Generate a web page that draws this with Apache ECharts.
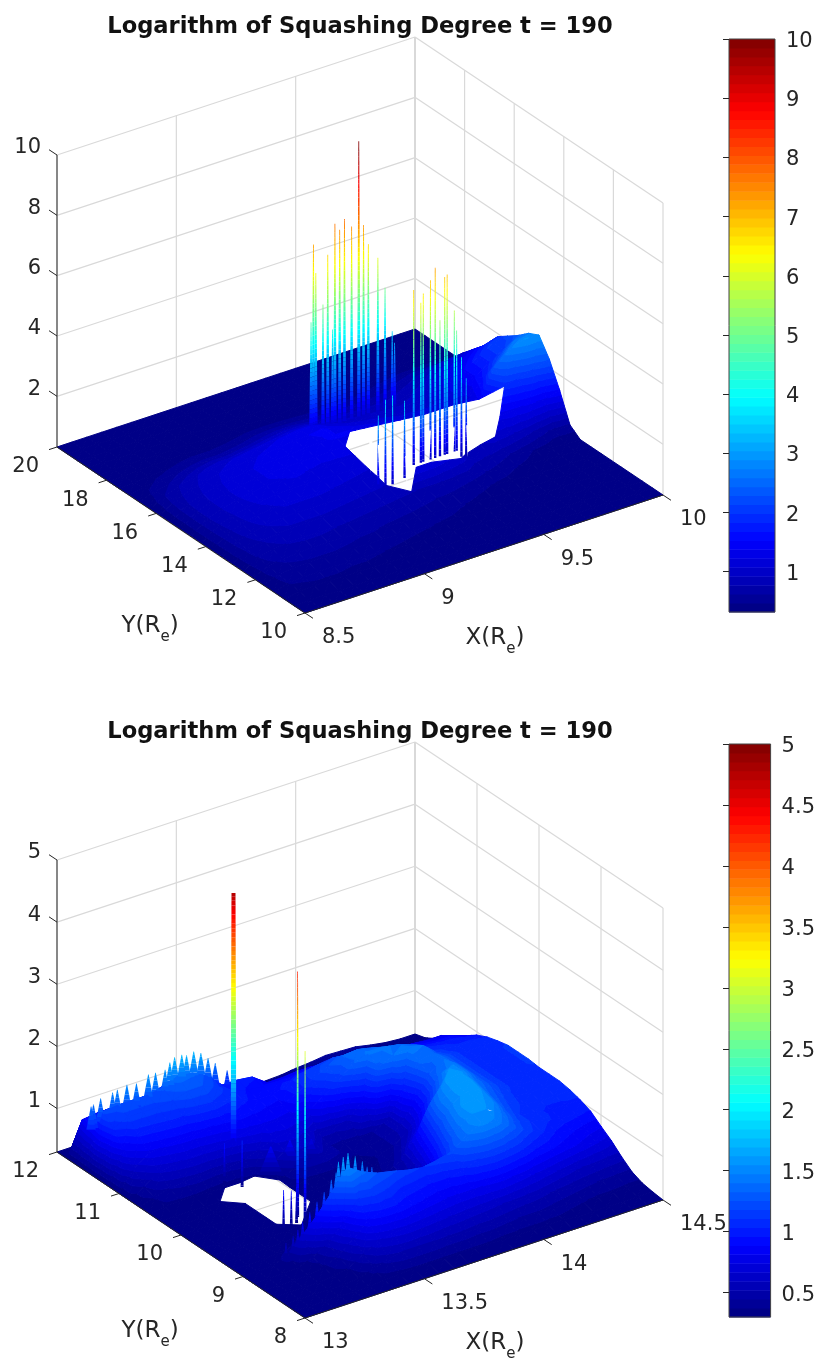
<!DOCTYPE html>
<html><head><meta charset="utf-8">
<style>html,body{margin:0;padding:0;background:#fff}#c{width:818px;height:1358px}</style>
<script src="https://cdn.jsdelivr.net/npm/echarts@6/dist/echarts.min.js"></script>
</head><body><div id="c"></div>
<script>
const _ = null;
const titleText = 'Logarithm of Squashing Degree t = 190';

// ---------- upper panel ----------
const topXTicks = [8.5, 9, 9.5, 10];
const topYTicks = [10, 12, 14, 16, 18, 20];
const topZTicks = [2, 4, 6, 8, 10];
const topBarTicks = [1, 2, 3, 4, 5, 6, 7, 8, 9, 10];
const topRange = {x: [8.5, 10], y: [10, 20], z: [0.32, 10]};
// surface heights, rows from y=10 to y=20, columns from x=8.5 to x=10; null = missing data
const topSurface = [
[.32,.32,.32,.32,.32,.32,.32,.32,.32,.32,.32,.32,.32,.32,.32,.32,.32,.32,.32,.32,.32,.32,.32,.32,.32],
[.32,.35,.35,.35,.35,.35,.34,.34,.33,.33,.33,.32,.32,.32,.32,.32,.32,.32,.32,.32,.32,.32,.32,.32,.32],
[.32,.42,.44,.44,.44,.42,.42,.4,.38,.38,.36,.36,.34,.34,.32,.32,.32,.32,.32,.32,.32,.32,.32,.32,.32],
[.33,.48,.5,.52,.52,.5,.5,.48,.46,.44,.42,.42,.4,.38,.36,.34,.32,.32,.32,.32,.32,.32,.32,.32,.32],
[.33,.52,.58,.6,.6,.6,.58,.55,.54,.52,.5,.48,.46,.44,.42,.38,.36,.34,.32,.32,.32,.32,.32,.32,.32],
[.33,.58,.65,.68,.7,.7,.68,.65,.64,.6,.58,.56,.54,.52,.48,.44,.4,.38,.36,.34,.32,.32,.32,.32,.32],
[.34,.62,.72,.78,.8,.8,.78,.76,.74,.72,.7,.68,.65,.62,.6,.55,.5,.45,.42,.38,.36,.34,.32,.32,.32],
[.34,.66,.78,.85,.9,.9,.9,.88,.86,.84,.82,.8,.78,.76,.74,.72,.68,.62,.55,.48,.42,.38,.34,.32,.32],
[.34,.7,.84,.94,1,1,1,1,.98,.96,.94,.92,_,1.2,1.2,1.1,1,.8,.75,.65,.55,.45,.38,.34,.32],
[.34,.72,.88,1,1.05,1.1,1.1,1.1,1.08,1.06,1.04,1.02,_,_,_,_,_,.75,.9,1,.95,.85,.7,.55,.58],
[.34,.74,.9,1.03,1.1,1.15,1.18,1.18,1.16,1.14,1.12,1.1,_,_,_,_,_,_,_,_,1.28,1.35,1.4,1.35,1.5],
[.34,.75,.92,1.05,1.13,1.2,1.22,1.24,1.22,1.2,1.2,1.2,_,_,_,_,_,_,_,_,_,1.9,2,2.15,2.3],
[.34,.75,.92,1.05,1.15,1.2,1.25,1.27,1.27,1.27,1.28,1.3,_,_,_,_,_,_,_,_,1.4,2.3,2.7,2.9,2.87],
[.34,.74,.9,1.03,1.13,1.2,1.25,1.28,1.3,1.33,1.36,1.4,1.4,1.35,1.3,1.25,1.2,1.15,1.15,1.15,1.2,1.7,2.2,2.6,2.7],
[.34,.7,.85,.98,1.08,1.15,1.2,1.25,1.3,1.35,1.38,1.4,1.3,1.2,1.15,1.1,1.05,1.05,1.05,1.1,1.3,1.5,1.8,2.1,2.4],
[.33,.62,.78,.9,1,1.05,1.1,1.15,1.2,1.25,1.3,1.3,1.15,1.05,1,.98,.95,.95,1,1.1,1.3,1.5,1.8,2.1,2.15],
[.33,.52,.62,.72,.8,.85,.85,.9,.95,1,1.05,1.05,.95,.9,.88,.85,.85,.85,.9,1,1.15,1.3,1.5,1.75,1.9],
[.33,.42,.5,.56,.62,.65,.65,.68,.72,.78,.82,.82,.78,.75,.72,.72,.72,.72,.78,.85,.95,1.1,1.25,1.4,1.4],
[.32,.36,.4,.44,.48,.5,.5,.52,.55,.6,.62,.62,.6,.58,.58,.58,.58,.6,.62,.7,.78,.9,1,1.05,.85],
[.32,.33,.35,.37,.38,.4,.4,.4,.42,.45,.46,.46,.45,.44,.44,.44,.45,.46,.5,.55,.6,.62,.62,.55,.35],
[.32,.32,.33,.33,.33,.34,.34,.34,.34,.35,.35,.36,.36,.37,.37,.37,.38,.38,.4,.4,.42,.42,.42,.38,.32],
[.32,.32,.32,.32,.32,.32,.32,.32,.32,.32,.32,.32,.32,.32,.33,.33,.33,.33,.33,.33,.33,.33,.33,.32,.32],
[.32,.32,.32,.32,.32,.32,.32,.32,.32,.32,.32,.32,.32,.32,.32,.32,.32,.32,.32,.32,.32,.32,.32,.32,.32],
[.32,.32,.32,.32,.32,.32,.32,.32,.32,.32,.32,.32,.32,.32,.32,.32,.32,.32,.32,.32,.32,.32,.32,.32,.32],
[.32,.32,.32,.32,.32,.32,.32,.32,.32,.32,.32,.32,.32,.32,.32,.32,.32,.32,.32,.32,.32,.32,.32,.32,.32]
];
// isolated one-cell outliers: x, y, peak height
const topSpikeX = [9.19,9.2,9.18,9.23,9.25,9.27,9.28,9.3,9.32,9.35,9.38,9.4,9.42,9.46,9.49,9.52,9.53];
const topSpikeY = [16.3,16.3,16.3,16.3,16.3,16.3,16.3,16.3,16.3,16.3,16.3,16.3,16.3,16.3,16.3,16.3,16.3];
const topSpikeZ = [7.27,6.3,4.72,5.18,6.77,4.24,7.72,7.47,7.78,7.45,10.2,7.37,6.69,6.13,5.05,3.53,3.13];
const topSpikeX2 = [9.34,9.37,9.38,9.41,9.43,9.45,9.47,9.48,9.51,9.52,9.54,9.56,9.15,9.18,9.21,9.26];
const topSpikeY2 = [13.7,13.7,13.7,13.7,13.7,13.7,13.7,13.7,13.7,13.7,13.7,13.7,13.3,13.3,13.3,13.3];
const topSpikeZ2 = [6.8,6.3,6.58,6.94,7.3,5.51,6.89,6.95,5.68,4.99,4.05,3.3,3.36,3.8,3.86,3.56];
// narrow gaps at the near edge of the missing-data hole
const topGapX = [9.22,9.25,9.21,9.22,9.42,9.5,9.55];
const topGapY = [13.26,13.11,14.18,13.93,13.84,13.65,13.54];
const topGapZ = [.8,.8,.8,.8,.8,.8,.8];

// ---------- lower panel ----------
const lowXTicks = [13, 13.5, 14, 14.5];
const lowYTicks = [8, 9, 10, 11, 12];
const lowZTicks = [1, 2, 3, 4, 5];
const lowBarTicks = [0.5, 1, 1.5, 2, 2.5, 3, 3.5, 4, 4.5, 5];
const lowRange = {x: [13, 14.5], y: [8, 12], z: [0.3, 5]};
const lowSurface = [
[.3,.3,.3,.3,.3,.3,.3,.3,.3,.3,.3,.3,.3,.3,.3,.3,.3,.3,.3,.3,.3,.3,.3,.3,.3],
[.3,.3,.3,.3,.3,.3,.32,.34,.36,.36,.36,.36,.36,.36,.34,.34,.34,.34,.34,.32,.32,.32,.32,.32,.32],
[.3,.3,.3,.3,.3,.32,.4,.48,.52,.52,.52,.5,.5,.48,.48,.46,.44,.44,.42,.4,.38,.36,.36,.35,.35],
[.3,.3,.3,.3,.32,.38,.52,.65,.7,.72,.7,.68,.66,.64,.62,.6,.58,.56,.54,.5,.48,.46,.44,.43,.42],
[.3,.3,.3,.3,.35,.46,.65,.88,.95,.95,.9,.86,.82,.8,.8,.82,.84,.8,.75,.7,.65,.6,.58,.56,.55],
[.3,.3,.3,.32,.4,.55,.8,1.1,1.15,1.1,1,.98,.95,.95,1,1.1,1.15,1.12,1.05,.95,.9,.85,.8,.75,.7],
[.3,.3,.32,.42,.65,.9,1.2,1.5,1.35,1.25,1.2,1.14,1.1,1.14,1.2,1.4,1.5,1.45,1.3,1.15,1.05,.95,.9,.85,.82],
[.3,.3,.3,.32,.38,.5,.7,.9,.85,.8,.75,.7,.7,.8,1,1.35,1.55,1.55,1.4,1.2,1.1,1.05,1,.98,.95],
[.3,.3,.3,.3,.3,.32,.38,.45,.5,.5,.48,.46,.48,.55,.8,1.25,1.55,1.6,1.5,1.25,1.1,1.05,1.02,1.02,1.02],
[.3,.3,.3,.3,.3,.3,.32,.34,.36,.4,.38,.38,.4,.45,.65,1.1,1.45,1.6,1.55,1.3,1.15,1.08,1.05,1.05,1.07],
[.3,.3,.3,.3,.3,.3,_,.32,.34,.34,.35,.35,.36,.4,.55,.95,1.4,1.6,1.6,1.35,1.2,1.1,1.08,1.08,1.1],
[.3,.3,.3,.3,.3,.3,_,_,.32,.33,.34,.34,.35,.38,.5,.8,1.25,1.55,1.6,1.4,1.25,1.12,1.08,1.08,1.1],
[.3,.3,.3,.3,.3,.3,_,_,.32,.33,.34,.34,.34,.36,.4,.55,.8,1.2,1.55,1.45,1.25,1.12,1.08,1.08,1.1],
[.3,.3,.3,.3,.3,.3,_,_,.32,.34,.36,.36,.35,.36,.38,.45,.6,.95,1.35,1.45,1.25,1.12,1.08,1.08,1.12],
[.3,.3,.3,.3,.3,_,_,_,.33,.45,.5,.5,.45,.38,.4,.45,.55,.85,1.25,1.4,1.25,1.12,1.08,1.08,1.12],
[.3,.35,.36,.36,.34,.33,.33,.36,.45,.6,.62,.6,.45,.42,.42,.45,.55,1,1.35,1.38,1.25,1.12,1.08,1.08,1.12],
[.3,.38,.45,.48,.5,.48,.48,.52,.6,.7,.72,.68,.55,.55,.6,.85,1.3,1.4,1.45,1.4,1.2,1.12,1.08,1.08,1.08],
[.3,.45,.6,.65,.68,.68,.7,.74,.78,.8,.8,.78,.78,.95,1.12,1.32,1.42,1.42,1.38,1.3,1.12,1.08,1.05,1.05,1.03],
[.3,.62,.78,.82,.85,.85,.88,.9,.92,.9,.88,.86,.98,1.12,1.25,1.33,1.35,1.3,1.22,1.15,1.05,1.02,1,.98,.95],
[.3,.82,.98,1,1.02,1.03,1.08,1.1,1.05,.98,.92,.92,1,1.1,1.15,1.18,1.15,1.12,1.08,.98,.95,.92,.9,.9,.83],
[.3,1.05,1.15,1.15,1.15,1.18,1.25,1.25,1.15,1.02,.95,.93,.92,.92,.95,.95,.95,.92,.9,.88,.85,.82,.8,.8,.72],
[.3,1.2,1.23,1.23,1.23,1.27,1.38,1.35,1.22,1,1,.97,.8,.8,.82,.82,.78,.75,.7,.66,.64,.61,.58,.56,.6],
[.3,1,1.05,1.05,1.05,1.08,1.15,1.12,1,.8,.7,.62,.55,.55,.6,.62,.6,.58,.55,.52,.5,.48,.46,.45,.45],
[.3,.85,.88,.88,.88,.88,.91,1,1.03,.95,.75,.5,.42,.38,.42,.45,.46,.46,.45,.42,.4,.38,.36,.34,.35],
[.3,.3,.3,.3,.3,.3,.3,.3,.3,.3,.3,.3,.3,.32,.34,.35,.38,.4,.43,.42,.41,.36,.32,.3,.3]
];
const lowSpikeX = [13.42];
const lowSpikeY = [10.77];
const lowSpikeZ = [4.76];
const lowThinX = [13.39,13.39,13.33,13.36,13.3,13.34,13.37];
const lowThinY = [9.62,9.5,10.57,10.4,9.5,9.53,9.56];
const lowThinZ = [4.3,3.1,.98,1.1,.98,.9,.9];
// saw-tooth rim along the far crest
const lowRimX = [13,13.01,13.04,13.09,13.11,13.15,13.19,13.24,13.27,13.31,13.33,13.35,13.38,13.4,13.43,13.46,13.49,13.52,13.57];
const lowRimY = [11.45,11.45,11.45,11.45,11.45,11.45,11.45,11.45,11.45,11.45,11.45,11.45,11.45,11.45,11.45,11.45,11.45,11.45,11.45];
const lowRimZ = [1.4,1.42,1.48,1.51,1.53,1.56,1.53,1.61,1.6,1.6,1.69,1.75,1.75,1.72,1.74,1.68,1.56,1.44,1.26];
// saw-tooth rim along the front lobe
const lowLobeX = [13.18,13.21,13.23,13.25,13.28,13.31,13.34,13.37,13.39,13.4,13.42,13.44,13.47,13.5,13.52,13.54];
const lowLobeY = [9,9,9,9,9,9,9,9,9,9,9,9,9,9,9,9];
const lowLobeZ = [.61,.68,.76,.86,.98,1.11,1.23,1.39,1.48,1.64,1.69,1.73,1.64,1.52,1.41,1.38];
// soft low humps beyond the hole
const lowHumpX = [13.48,13.56,13.65];
const lowHumpY = [10.4,10.4,10.4];
const lowHumpZ = [.85,.85,.75];

// ---------- drawing ----------
const INK = '#262626', GRID = '#d9d9d9';
const FONT = '"DejaVu Sans", sans-serif';
const VIEW = {w: 606, h: 575, xu: 358, xv: 118, yu: -248, yv: 166, zv: 292, u0: 248};

function jet(t) {
  const c = v => Math.round(255 * Math.max(0, Math.min(1, v)));
  return 'rgb(' + c(Math.min(4*t-1.5, -4*t+4.5)) + ',' + c(Math.min(4*t-.5, -4*t+3.5)) + ',' + c(Math.min(4*t+.5, -4*t+2.5)) + ')';
}
const LEVELS = 64;
function projector(r) {
  const nx = x => (x - r.x[0]) / (r.x[1] - r.x[0]);
  const ny = y => (y - r.y[0]) / (r.y[1] - r.y[0]);
  const nz = z => (z - r.z[0]) / (r.z[1] - r.z[0]);
  return {
    nx, ny,
    uv: (x, y, z) => [VIEW.u0 + VIEW.xu * nx(x) + VIEW.yu * ny(y), VIEW.xv * nx(x) + VIEW.yv * ny(y) + VIEW.zv * nz(z)],
    depth: (x, y) => VIEW.xv * nx(x) + VIEW.yv * ny(y)
  };
}
function clipZ(pts, lim, keepAbove) {
  const out = [];
  for (let i = 0; i < pts.length; i++) {
    const a = pts[i], b = pts[(i + 1) % pts.length];
    const ia = keepAbove ? a[2] >= lim : a[2] <= lim;
    const ib = keepAbove ? b[2] >= lim : b[2] <= lim;
    if (ia) out.push(a);
    if (ia !== ib) {
      const t = (lim - a[2]) / (b[2] - a[2]);
      out.push([a[0] + t * (b[0] - a[0]), a[1] + t * (b[1] - a[1]), lim]);
    }
  }
  return out;
}
function levelOf(z, r) {
  return Math.max(0, Math.min(LEVELS - 1, Math.floor((z - r.z[0]) / ((r.z[1] - r.z[0]) / LEVELS))));
}
function bandsOf(tri, r) {
  const step = (r.z[1] - r.z[0]) / LEVELS;
  const zs = tri.map(p => p[2]);
  const lo = levelOf(Math.min(...zs), r), hi = levelOf(Math.max(...zs), r);
  const res = [];
  for (let k = lo; k <= hi; k++) {
    const a = k === 0 ? -1e9 : r.z[0] + k * step, b = k === LEVELS - 1 ? 1e9 : r.z[0] + (k + 1) * step;
    const poly = clipZ(clipZ(tri, a, true), b, false);
    if (poly.length >= 3) res.push({pts: poly, color: jet((k + .5) / LEVELS)});
  }
  return res;
}
function buildFaces(r, surface, spikeSets, gaps) {
  const P = projector(r), rows = surface.length, cols = surface[0].length, faces = [];
  const X = i => r.x[0] + (r.x[1] - r.x[0]) * i / (cols - 1);
  const Y = j => r.y[0] + (r.y[1] - r.y[0]) * j / (rows - 1);
  const node = (i, j) => {
    const z = surface[j][i];
    if (z === null) return null;
    const uv = P.uv(X(i), Y(j), z);
    return [uv[0], uv[1], z, X(i), Y(j)];
  };
  const addTri = (a, b, c, bias) => {
    const d = (P.depth(a[3], a[4]) + P.depth(b[3], b[4]) + P.depth(c[3], c[4])) / 3 + bias;
    faces.push({d, stroke: true, bands: bandsOf([a, b, c], r)});
  };
  for (let j = 0; j < rows - 1; j++) for (let i = 0; i < cols - 1; i++) {
    const a = node(i, j), b = node(i + 1, j), c = node(i + 1, j + 1), e = node(i, j + 1);
    const have = [a, b, c, e].filter(Boolean);
    if (have.length === 4) { addTri(a, c, e, .01); addTri(a, b, c, 0); }
    else if (have.length === 3) addTri(have[0], have[1], have[2], 0);
  }
  const nearest = (x, y) => {
    const i = Math.round(P.nx(x) * (cols - 1)), j = Math.round(P.ny(y) * (rows - 1));
    return surface[j][i];
  };
  spikeSets.forEach(set => {
    set.x.forEach((x, k) => {
      const y = set.y[k], tip = set.z[k];
      let base = set.drop ? tip - set.drop : nearest(x, y);
      if (base === null) base = set.fallback || .7;
      const b0 = P.uv(x, y, base), t0 = P.uv(x, y, tip);
      const poly = [[b0[0] - set.hw, b0[1], base], [b0[0] + set.hw, b0[1], base], [t0[0] + set.tw, t0[1], tip], [t0[0] - set.tw, t0[1], tip]];
      faces.push({d: P.depth(x, y), bands: bandsOf(poly, r)});
    });
  });
  if (gaps) gaps.x.forEach((x, k) => {
    const t0 = P.uv(x, gaps.y[k], gaps.z[k]);
    faces.push({d: -1, bands: [{pts: [[t0[0], t0[1]], [t0[0] - 1.6, t0[1] + 32], [t0[0] + 1.6, t0[1] + 32]], color: '#fff'}]});
  });
  faces.sort((p, q) => q.d - p.d);
  return faces.filter(f => f.bands.length);
}
function buildWire(r, xT, yT, zT) {
  const P = projector(r), g = [], [x0, x1] = [r.x[0], r.x[1]], [y0, y1] = [r.y[0], r.y[1]], [z0, z1] = [r.z[0], r.z[1]];
  const seg = (a, b, w) => g.push({a: P.uv(...a), b: P.uv(...b), w: w || 1.2});
  zT.forEach(z => { seg([x0, y1, z], [x1, y1, z]); seg([x1, y1, z], [x1, y0, z]); });
  xT.forEach(x => { seg([x, y1, z0], [x, y1, z1], x === x1 ? 2 : 1.2); seg([x, y0, z0], [x, y1, z0]); });
  yT.forEach(y => { seg([x1, y, z0], [x1, y, z1]); seg([x0, y, z0], [x1, y, z0]); });
  return g;
}
function buildAxes(r, xT, yT, zT) {
  const P = projector(r), [x0, x1] = r.x, [y0, y1] = r.y, [z0, z1] = r.z;
  const lines = [], texts = [];
  const line = (a, du, dv) => lines.push({a, b: [a[0] + du, a[1] + dv]});
  const seg = (a, b) => lines.push({a: P.uv(...a), b: P.uv(...b)});
  seg([x0, y0, z0], [x1, y0, z0]);
  seg([x0, y0, z0], [x0, y1, z0]);
  seg([x0, y1, z0], [x0, y1, z1]);
  xT.forEach(x => { const a = P.uv(x, y0, z0); line(a, 8, -5.3); texts.push({a: [a[0] + 17, a[1] - 25], s: String(x), al: 'left'}); });
  yT.forEach(y => { const a = P.uv(x0, y, z0); line(a, -8, -2.6); texts.push({a: [a[0] - 18, a[1] - 20], s: String(y), al: 'right'}); });
  zT.forEach(z => { const a = P.uv(x0, y1, z); line(a, -8, 5.3); texts.push({a: [a[0] - 16, a[1] + 7], s: String(z), al: 'right'}); });
  texts.push({a: [93, -13], rich: '{a|Y(R}{b|e}{a|)}', al: 'center'});
  texts.push({a: [438, -25], rich: '{a|X(R}{b|e}{a|)}', al: 'center'});
  return {lines, texts};
}
const lineSeries = (gi, list, color) => ({
  type: 'custom', xAxisIndex: gi, yAxisIndex: gi, coordinateSystem: 'cartesian2d', clip: false, silent: true, animation: false, progressive: 0,
  data: list.map(s => [s.a[0], s.a[1]]),
  renderItem: (p, api) => {
    const s = list[p.dataIndex], A = api.coord(s.a), B = api.coord(s.b);
    return {type: 'line', shape: {x1: A[0], y1: A[1], x2: B[0], y2: B[1]}, style: {stroke: color, lineWidth: s.w || 1}};
  }
});
const faceSeries = (gi, faces) => ({
  type: 'custom', xAxisIndex: gi, yAxisIndex: gi, coordinateSystem: 'cartesian2d', clip: false, silent: true, animation: false, progressive: 0,
  data: faces.map(f => [f.bands[0].pts[0][0], f.bands[0].pts[0][1]]),
  renderItem: (p, api) => {
    const f = faces[p.dataIndex];
    return {type: 'group', children: f.bands.map(b => ({type: 'polygon', shape: {points: b.pts.map(q => api.coord([q[0], q[1]]))},
      style: f.stroke ? {fill: b.color, stroke: b.color, lineWidth: 1} : {fill: b.color}}))};
  }
});
const textSeries = (gi, list) => ({
  type: 'custom', xAxisIndex: gi, yAxisIndex: gi, coordinateSystem: 'cartesian2d', clip: false, silent: true, animation: false, progressive: 0,
  data: list.map(t => [t.a[0], t.a[1]]),
  renderItem: (p, api) => {
    const t = list[p.dataIndex], A = api.coord(t.a);
    const style = {x: A[0], y: A[1], align: t.al, verticalAlign: 'middle', fill: INK, fontFamily: FONT, fontSize: 21};
    if (t.rich) {
      style.text = t.rich;
      style.rich = {
        a: {fontFamily: FONT, fontSize: 23, fill: INK, lineHeight: 38, verticalAlign: 'middle'},
        b: {fontFamily: FONT, fontSize: 15, fill: INK, lineHeight: 38, verticalAlign: 'bottom'}
      };
    } else style.text = t.s;
    return {type: 'text', style};
  }
});
const barSeries = (gi, r) => {
  const step = (r.z[1] - r.z[0]) / LEVELS, idx = [];
  for (let k = 0; k < LEVELS; k++) idx.push([0.5, r.z[0] + (k + .5) * step]);
  return {
    type: 'custom', xAxisIndex: gi, yAxisIndex: gi, coordinateSystem: 'cartesian2d', silent: true, animation: false, progressive: 0,
    data: idx, clip: false,
    renderItem: (p, api) => {
      const k = p.dataIndex;
      const a = api.coord([0, r.z[0] + k * step]), b = api.coord([1, r.z[0] + (k + 1) * step]);
      return {type: 'rect', shape: {x: a[0], y: b[1], width: b[0] - a[0], height: a[1] - b[1] + .5}, style: {fill: jet((k + .5) / LEVELS)}};
    }
  };
};

const panels = [
  {top: 38, barTop: 39, r: topRange, xT: topXTicks, yT: topYTicks, zT: topZTicks, bar: topBarTicks,
   faces: buildFaces(topRange, topSurface, [
     {x: topSpikeX, y: topSpikeY, z: topSpikeZ, hw: 1.8, tw: .4},
     {x: topSpikeX2, y: topSpikeY2, z: topSpikeZ2, hw: 1.2, tw: .4, fallback: 1}
   ], {x: topGapX, y: topGapY, z: topGapZ})},
  {top: 743, barTop: 744, r: lowRange, xT: lowXTicks, yT: lowYTicks, zT: lowZTicks, bar: lowBarTicks,
   faces: buildFaces(lowRange, lowSurface, [
     {x: lowSpikeX, y: lowSpikeY, z: lowSpikeZ, hw: 2.8, tw: 2, fallback: .35},
     {x: lowThinX, y: lowThinY, z: lowThinZ, hw: 1.5, tw: .35, fallback: .35},
     {x: lowRimX, y: lowRimY, z: lowRimZ, hw: 4.8, tw: .3, drop: .38},
     {x: lowLobeX, y: lowLobeY, z: lowLobeZ, hw: 3.4, tw: .3, drop: .4},
     {x: lowHumpX, y: lowHumpY, z: lowHumpZ, hw: 12, tw: .5, drop: .45}
   ])}
];

const grid = [], xAxis = [], yAxis = [], series = [], title = [];
panels.forEach((p, n) => {
  const g3 = n * 2, gb = n * 2 + 1;
  grid.push({left: 57, top: p.top, width: VIEW.w, height: VIEW.h});
  xAxis.push({gridIndex: g3, type: 'value', min: 0, max: VIEW.w, show: false});
  yAxis.push({gridIndex: g3, type: 'value', min: 0, max: VIEW.h, show: false});
  grid.push({left: 729, top: p.barTop, width: 46, height: 573, show: true, borderColor: '#444', borderWidth: 1, backgroundColor: 'transparent', z: 6});
  xAxis.push({gridIndex: gb, type: 'value', min: 0, max: 1, show: false});
  yAxis.push({gridIndex: gb, type: 'value', position: 'right', min: p.r.z[0], max: p.r.z[1], scale: true, z: 7,
    splitLine: {show: false}, axisLine: {show: false},
    axisTick: {show: true, inside: true, length: 6, customValues: p.bar, lineStyle: {color: INK}},
    axisLabel: {show: true, margin: 11, customValues: p.bar, formatter: '{t|{value}}',
      rich: {t: {color: INK, fontFamily: FONT, fontSize: 21, padding: [5, 0, 0, 0]}}}});
  title.push({text: titleText, left: 355, top: n ? 716 : 11, textAlign: 'center',
    textStyle: {fontFamily: FONT, fontWeight: 'bold', fontSize: 22.6, color: '#111'}});
  const ax = buildAxes(p.r, p.xT, p.yT, p.zT);
  series.push(lineSeries(g3, buildWire(p.r, p.xT, p.yT, p.zT), GRID));
  series.push(faceSeries(g3, p.faces));
  series.push(lineSeries(g3, ax.lines, INK));
  series.push(textSeries(g3, ax.texts));
  series.push(barSeries(gb, p.r));
});
const chart = echarts.init(document.getElementById('c'), null, {renderer: 'canvas'});
chart.setOption({animation: false, backgroundColor: '#fff', title, grid, xAxis, yAxis, series});
</script></body></html>
